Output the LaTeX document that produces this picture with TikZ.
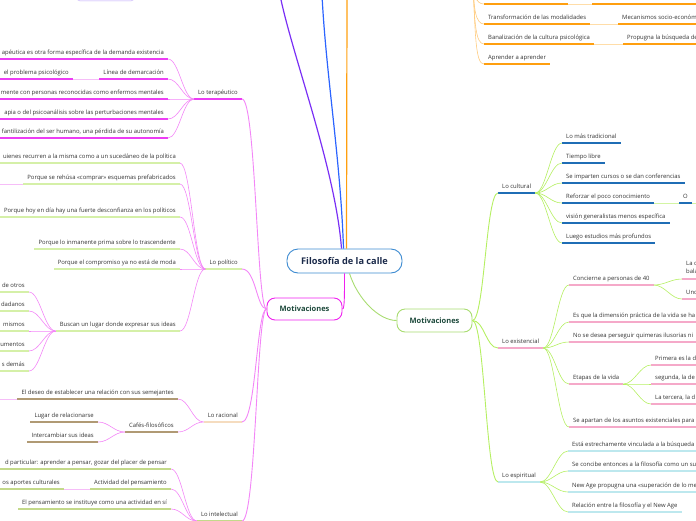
\documentclass[tikz,border=0pt]{standalone}
\usepackage{fontspec}
\setmainfont{Open Sans}
\definecolor{lblc}{HTML}{333333}
\definecolor{mag}{HTML}{EC3DF4}
\definecolor{magc}{HTML}{F386F7}
\definecolor{magp}{HTML}{F6BDF8}
\definecolor{magB}{HTML}{F020F0}
\definecolor{polg}{HTML}{D5F0A8}
\definecolor{racp}{HTML}{F5DCBF}
\definecolor{tanc}{HTML}{B09A74}
\definecolor{intg}{HTML}{C3D98A}
\definecolor{culc}{HTML}{1F6DB5}
\definecolor{exic}{HTML}{F5A9C9}
\definecolor{espc}{HTML}{BDE8EE}
\definecolor{limec}{HTML}{B5EF62}
\definecolor{limep}{HTML}{D3F5A3}
\definecolor{limeB}{HTML}{A8DC70}
\definecolor{orgc}{HTML}{FF9F0F}
\definecolor{orgl}{HTML}{FFCC80}
\definecolor{orgp}{HTML}{FFDDA8}
\definecolor{purp}{HTML}{7A2FF5}
\definecolor{blu}{HTML}{2B64FF}
\definecolor{cenc}{HTML}{3D8BD1}
\definecolor{cent}{HTML}{1B2A4A}
\definecolor{motg}{HTML}{1E4A3C}
\definecolor{lav}{HTML}{ECE4FF}
\definecolor{lavB}{HTML}{CBB9FB}
\tikzset{
  lbl/.style={font=\fontsize{5.9}{7}\selectfont, text=lblc, inner sep=0pt},
  ul/.style={draw=#1, line width=1.2pt},
  cn/.style={draw=#1, line width=0.6pt},
  mc/.style={draw=#1, line width=0.9pt},
  tl/.style={draw=#1, line width=1.2pt},
  cenbox/.style={draw=cenc, line width=0.9pt, rounded corners=11pt, fill=white, minimum width=115pt, minimum height=24pt, font=\fontsize{9.2}{11}\selectfont\bfseries, text=cent, inner sep=0pt},
  motbox/.style={line width=0.9pt, rounded corners=8pt, fill=white, minimum width=75pt, minimum height=22pt, font=\fontsize{7.5}{9}\selectfont\bfseries, text=motg, inner sep=0pt}
}
% right-aligned topic, underline auto
\newcommand\mmR[5]{%
  \node[lbl,anchor=base east] (#1) at ({#2-4},{#3-4.8}) {#5};
  \coordinate (#1-r) at (#2,#3);
  \path (#1.west) ++(-4,0) coordinate (#1-t);
  \draw[ul=#4] (#1-r) -- (#1-t |- #1-r) coordinate (#1-l);}
% right-aligned topic cut at left edge
\newcommand\mmRc[5]{%
  \node[lbl,anchor=base east] (#1) at ({#2-4},{#3-4.8}) {#5};
  \draw[ul=#4] (#2,#3) coordinate (#1-r) -- (-5,#3) coordinate (#1-l);}
% left-aligned topic, underline auto
\newcommand\mmL[5]{%
  \node[lbl,anchor=base west] (#1) at ({#2+4},{#3-4.8}) {#5};
  \coordinate (#1-l) at (#2,#3);
  \path (#1.east) ++(4,0) coordinate (#1-t);
  \draw[ul=#4] (#1-l) -- (#1-t |- #1-l) coordinate (#1-r);}
% left-aligned topic cut at right edge
\newcommand\mmLc[5]{%
  \node[lbl,anchor=base west] (#1) at ({#2+4},{#3-4.8}) {#5};
  \draw[ul=#4] (#2,#3) coordinate (#1-l) -- (705,#3) coordinate (#1-r);}
\newcommand\cR[3]{\draw[cn=#3] (#1) .. controls +(11,0) and +(-11,0) .. (#2);}
\newcommand\cL[3]{\draw[cn=#3] (#1) .. controls +(-11,0) and +(11,0) .. (#2);}
\begin{document}
\begin{tikzpicture}[x=1pt,y=-1pt]
\useasboundingbox (0,0) rectangle (696,520);
\clip (0,0) rectangle (696,520);

% ---- central nodes
\node[cenbox] (c) at (344.5,261) {Filosofía de la calle};
\node[motbox, draw=magB] (ml) at (304.5,309) {Motivaciones};
\node[motbox, draw=limeB, minimum height=23pt] (mr) at (434.5,320.5) {Motivaciones};
\node[draw=lavB, fill=lav, rounded corners=3pt, minimum width=57pt, minimum height=16pt] (topbox) at (105.5,-7) {};

\coordinate (pT) at (280,-5);
\coordinate (bT) at (322,-5);
\coordinate (oT) at (347,-5);
\draw[tl=purp] ([xshift=-3pt]c.north) .. controls +(-6,-80) and +(12,60) .. (pT);
\draw[tl=blu] ([xshift=-1pt]c.north) .. controls +(-3,-90) and +(4,80) .. (bT);
\draw[tl=orgc] ([xshift=2pt]c.north) -- (oT);
\draw[mc=magB] (c.south) .. controls +(0,25) and +(2,0) .. (ml.east);
\draw[mc=limeB] ([xshift=5pt]c.south) .. controls +(8,25) and +(-18,0) .. (mr.west);

% ---- orange (top right)
\coordinate (op) at (473,-25);
\draw[ul=orgc] (484,4) coordinate (o0-l) -- (568,4) coordinate (o0-r);
\draw[ul=orgc] (592,4) coordinate (o0b-l) -- (705,4) coordinate (o0b-r);
\draw[cn=orgp] (o0-r) -- (o0b-l);
\mmL{o1}{484}{24}{orgc}{Transformación de las modalidades}
\mmLc{o1b}{618}{24}{orgc}{Mecanismos socio-económ}
\draw[cn=orgp] (o1-r) -- (o1b-l);
\mmL{o2}{484}{44}{orgc}{Banalización de la cultura psicológica}
\mmLc{o2b}{623}{44}{orgc}{Propugna la búsqueda de}
\draw[cn=orgp] (o2-r) -- (o2b-l);
\mmL{o3}{484}{64}{orgc}{Aprender a aprender}
\draw[cn=orgl] (op) .. controls +(0,20) and +(-8,0) .. (o0-l);
\draw[cn=orgl] (op) .. controls +(0,35) and +(-8,0) .. (o1-l);
\draw[cn=orgl] (op) .. controls +(1,50) and +(-8,0) .. (o2-l);
\draw[cn=orgl] (op) .. controls +(2,65) and +(-8,0) .. (o3-l);

% ---- left: Lo terapéutico
\mmR{ter}{242}{99}{mag}{Lo terapéutico}
\mmRc{t1}{168}{59}{mag}{apéutica es otra forma específica de la demanda existencia}
\mmR{t2}{168}{79}{mag}{Línea de demarcación}
\mmRc{t2a}{73}{79}{mag}{el problema psicológico}
\mmRc{t3}{168}{99}{mag}{mente con personas reconocidas como enfermos mentales}
\mmRc{t4}{168}{119}{mag}{apia o del psicoanálisis sobre las perturbaciones mentales}
\mmRc{t5}{168}{138}{mag}{fantilización del ser humano, una pérdida de su autonomía}
\draw[cn=magp] (t2-l) -- (t2a-r);
\foreach \k in {t1,t2,t3,t4,t5} {\cL{ter-l}{\k-r}{magc}}

% ---- left: Lo político
\mmR{pol}{242}{269}{polg}{Lo político}
\mmRc{p1}{180}{163}{polg}{uienes recurren a la misma como a un sucedáneo de la política}
\mmR{p2}{180}{184}{polg}{Porque se rehúsa «comprar» esquemas prefabricados}
\coordinate (p2x) at (-5,184);
\draw[cn=magp] (p2-l) -- (p2x);
\mmR{p3}{180}{217}{polg}{Porque hoy en día hay una fuerte desconfianza en los políticos}
\mmR{p4}{180}{249}{polg}{Porque lo inmanente prima sobre lo trascendente}
\mmR{p5}{180}{269}{polg}{Porque el compromiso ya no está de moda}
\mmR{p6}{180}{331}{polg}{Buscan un lugar donde expresar sus ideas}
\foreach \k in {p1,p2,p3,p4,p5,p6} {\cL{pol-l}{\k-r}{magc}}
\mmRc{b1}{29}{292}{polg}{de otros}
\mmRc{b2}{29}{311}{polg}{dadanos}
\mmRc{b3}{29}{331}{polg}{mismos}
\mmRc{b4}{29}{351}{polg}{umentos}
\mmRc{b5}{29}{371}{polg}{s demás}
\foreach \k in {b1,b2,b3,b4,b5} {\cL{p6-l}{\k-r}{magc}}

% ---- left: Lo racional
\mmR{rac}{242}{422}{racp}{Lo racional}
\mmR{r1}{178}{399}{tanc}{El deseo de establecer una relación con sus semejantes}
\coordinate (r1x) at (-5,399);
\draw[cn=magp] (r1-l) -- (r1x);
\mmR{r2}{178}{432}{tanc}{Cafés-filosóficos}
\mmR{r2a}{98}{422}{tanc}{Lugar de relacionarse}
\mmR{r2b}{98}{442}{tanc}{Intercambiar sus ideas}
\foreach \k in {r1,r2} {\cL{rac-l}{\k-r}{magc}}
\foreach \k in {r2a,r2b} {\cL{r2-l}{\k-r}{magc}}

% ---- left: Lo intelectual
\mmR{int}{242}{521}{intg}{Lo intelectual}
\mmRc{i1}{171}{469}{intg}{d particular: aprender a pensar, gozar del placer de pensar}
\mmR{i2}{171}{489}{intg}{Actividad del pensamiento}
\mmRc{i2a}{64}{489}{intg}{os aportes culturales}
\draw[cn=magp] (i2-l) -- (i2a-r);
\mmR{i3}{171}{509}{intg}{El pensamiento se instituye como una actividad en sí}
\foreach \k in {i1,i2,i3} {\cL{int-l}{\k-r}{magc}}

% ---- main left connectors
\foreach \k in {ter,pol,rac,int} {\draw[mc=magc] (ml.west) .. controls +(-10,0) and +(14,0) .. (\k-r);}

% ---- right: Lo cultural
\mmL{cul}{498}{193}{culc}{Lo cultural}
\mmL{c1}{562}{143}{culc}{Lo más tradicional}
\mmL{c2}{562}{163}{culc}{Tiempo libre}
\mmL{c3}{562}{183}{culc}{Se imparten cursos o se dan conferencias}
\mmL{c4}{562}{203}{culc}{Reforzar el poco conocimiento}
\mmL{c5}{562}{223}{culc}{visión generalistas menos específica}
\mmL{c6}{562}{243}{culc}{Luego estudios más profundos}
\mmL{cO}{679}{203}{culc}{O}
\coordinate (cOx) at (705,203);
\draw[cn=limep] (c4-r) -- (cO-l);
\draw[cn=limep] (cO-r) -- (cOx);
\foreach \k in {c1,c2,c3,c4,c5,c6} {\cR{cul-r}{\k-l}{limec}}

% ---- right: Lo existencial
\mmL{exi}{498}{348}{exic}{Lo existencial}
\mmL{e1}{569}{285}{exic}{Concierne a personas de 40}
\node[lbl,anchor=base west] (e1a) at (686,265) {La c};
\node[lbl,anchor=base west] (e1a2) at (686,273.5) {bala};
\draw[ul=exic] (682,279) coordinate (e1a-l) -- (705,279);
\mmLc{e1b}{682}{299}{exic}{Und}
\cR{e1-r}{e1a-l}{limec}
\cR{e1-r}{e1b-l}{limec}
\mmLc{e2}{569}{322}{exic}{Es que la dimensión práctica de la vida se ha}
\mmLc{e3}{569}{342}{exic}{No se desea perseguir quimeras ilusorias ni}
\mmL{e4}{569}{384}{exic}{Etapas de la vida}
\mmLc{e4a}{651}{365}{exic}{Primera es la d}
\mmLc{e4b}{651}{384}{exic}{segunda, la de}
\mmLc{e4c}{651}{404}{exic}{La tercera, la d}
\foreach \k in {e4a,e4b,e4c} {\cR{e4-r}{\k-l}{limec}}
\mmLc{e5}{569}{427}{exic}{Se apartan de los asuntos existenciales para}
\foreach \k in {e1,e2,e3,e4,e5} {\cR{exi-r}{\k-l}{limec}}

% ---- right: Lo espiritual
\mmL{esp}{498}{482}{espc}{Lo espiritual}
\mmLc{s1}{568}{451}{espc}{Está estrechamente vinculada a la búsqueda}
\mmLc{s2}{568}{471}{espc}{Se concibe entonces a la filosofía como un su}
\mmLc{s3}{568}{492}{espc}{New Age propugna una «superación de lo me}
\mmL{s4}{568}{512}{espc}{Relación entre la filosofía y el New Age}
\foreach \k in {s1,s2,s3,s4} {\cR{esp-r}{\k-l}{limec}}

% ---- main right connectors
\foreach \k in {cul,exi,esp} {\draw[mc=limec] (mr.east) .. controls +(12,0) and +(-12,0) .. (\k-l);}
\end{tikzpicture}
\end{document}
